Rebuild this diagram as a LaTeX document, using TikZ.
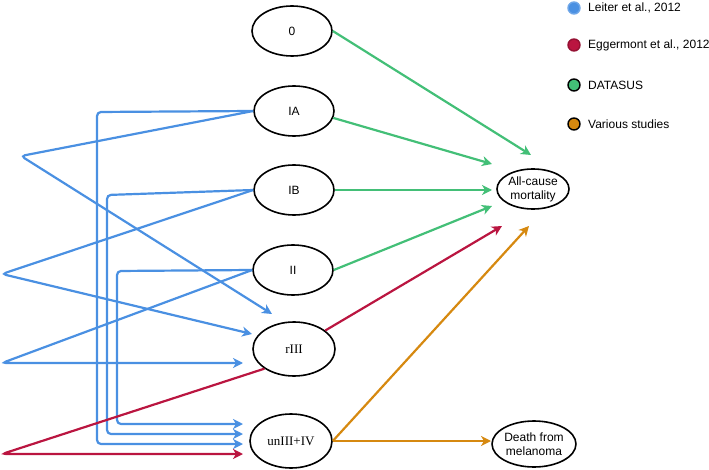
\documentclass[tikz,border=0pt]{standalone}
\usepackage{fontspec}
\setmainfont{Liberation Sans}
\newfontfamily\serfont{Liberation Serif}
\usetikzlibrary{shapes.geometric,arrows.meta}
\definecolor{cblue}{RGB}{74,144,226}
\definecolor{cred}{RGB}{186,21,64}
\definecolor{cgreen}{RGB}{67,191,119}
\definecolor{corange}{RGB}{214,137,16}
\begin{document}
\begin{tikzpicture}[x=1pt,y=-1pt,
  stage/.style={ellipse,draw=black,line width=1.6pt,inner sep=0pt,minimum width=80pt,minimum height=50pt,font=\fontsize{12}{14}\selectfont},
  bigstage/.style={stage,minimum width=82pt,minimum height=54pt,font=\serfont\fontsize{13}{14}\selectfont},
  outc/.style={stage,align=center,minimum width=72pt,minimum height=40pt},
  conn/.style={line width=2.2pt,-{Stealth[length=10pt,width=10pt,inset=3pt]},rounded corners=4pt},
  lblue/.style={conn,draw=cblue},
  lred/.style={conn,draw=cred},
  lgreen/.style={conn,draw=cgreen},
  lorange/.style={conn,draw=corange},
  legdot/.style={circle,inner sep=0pt,minimum size=12pt,line width=1.4pt},
  legtxt/.style={anchor=west,inner sep=0pt,font=\fontsize{12}{14}\selectfont}
]
\useasboundingbox (0,0) rectangle (709,470);

% nodes
\node[stage] (n0) at (292,31) {0};
\node[stage] (nIA) at (294,111) {IA};
\node[stage] (nIB) at (294,190) {IB};
\node[stage] (nII) at (293,270) {II};
\node[bigstage] (nrIII) at (294,349) {rIII};
\node[bigstage] (nun) at (291,441) {unIII+IV};
\node[outc] (nall) at (533,189) {All-cause\\mortality};
\node[outc,minimum width=75pt,minimum height=46pt] (ndeath) at (534,444) {Death from\\melanoma};

% coordinates (free ends and kinks)
\coordinate (kA) at (21,156);
\coordinate (eA) at (272,314);
\coordinate (kB) at (2,274);
\coordinate (eB) at (252,334);
\coordinate (kC) at (2,363);
\coordinate (eC) at (243,363);
\coordinate (vA1) at (97,112);
\coordinate (vA2) at (97,444);
\coordinate (eUA) at (243,444);
\coordinate (vB1) at (107,195);
\coordinate (vB2) at (107,434);
\coordinate (eUB) at (243,434);
\coordinate (vC1) at (117,271);
\coordinate (vC2) at (117,424);
\coordinate (eUC) at (243,424);
\coordinate (kR) at (2,454);
\coordinate (eUR) at (243,454);
\coordinate (eR) at (502,226);
\coordinate (g0) at (531,155);
\coordinate (gIA) at (492,164);
\coordinate (gIB) at (492,190);
\coordinate (gII) at (492,206);
\coordinate (oAll) at (529,226);
\coordinate (oD) at (491,441);

% blue (Leiter)
\draw[lblue] (nIA.west) -- (kA) -- (eA);
\draw[lblue] (nIA.west) -- (vA1) -- (vA2) -- (eUA);
\draw[lblue] (nIB.west) -- (kB) -- (eB);
\draw[lblue] (nIB.west) -- (vB1) -- (vB2) -- (eUB);
\draw[lblue] (nII.west) -- (kC) -- (eC);
\draw[lblue] (nII.west) -- (vC1) -- (vC2) -- (eUC);

% red (Eggermont)
\draw[lred] (nrIII.south west) -- (kR) -- (eUR);
\draw[lred] (nrIII) -- (eR);

% green (DATASUS)
\draw[lgreen] (n0.east) -- (g0);
\draw[lgreen] (nIA.-10) -- (gIA);
\draw[lgreen] (nIB.east) -- (gIB);
\draw[lgreen] (nII.east) -- (gII);

% orange (various)
\draw[lorange] (nun.east) -- (oAll);
\draw[lorange] (nun.east) -- (oD);

% legend
\node[legdot,fill=cblue,draw=cblue!80!white] (d1) at (574,8) {};
\node[legtxt] (t1) at (588,8) {Leiter et al., 2012};
\node[legdot,fill=cred,draw=cred!80!black] (d2) at (574,45) {};
\node[legtxt] (t2) at (588,45) {Eggermont et al., 2012};
\node[legdot,fill=cgreen,draw=black] (d3) at (574,85) {};
\node[legtxt] (t3) at (588,85) {DATASUS};
\node[legdot,fill=corange,draw=black] (d4) at (574,124) {};
\node[legtxt] (t4) at (588,124) {Various studies};
\end{tikzpicture}
\end{document}
